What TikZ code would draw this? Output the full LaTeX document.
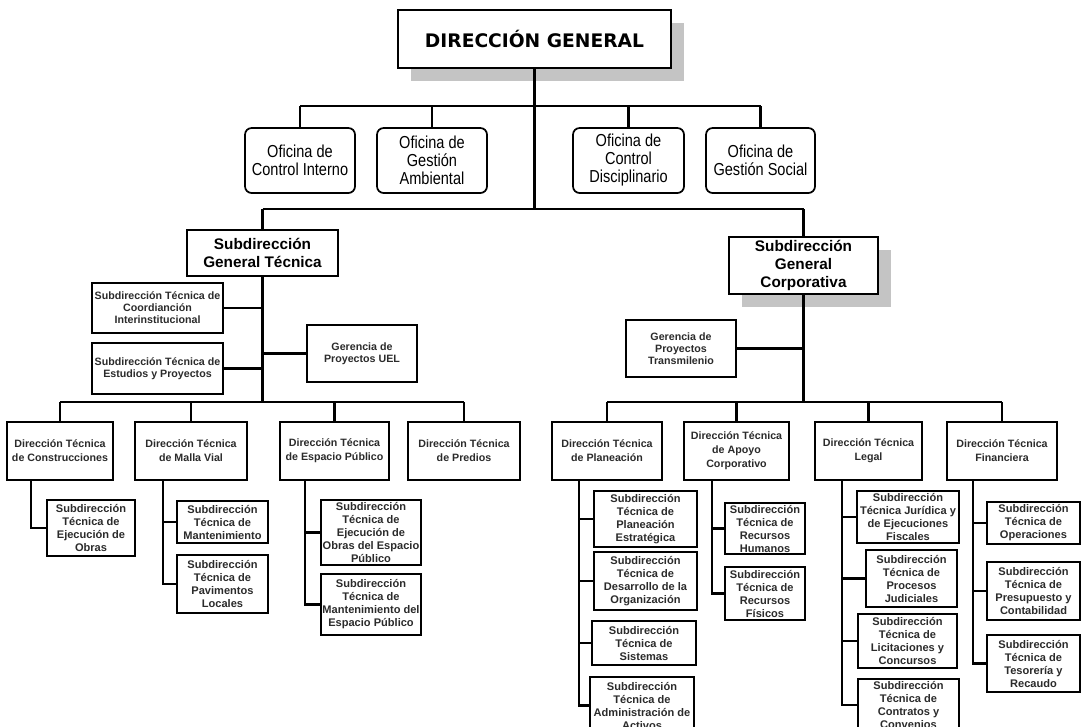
\documentclass[tikz,border=0pt]{standalone}
\usepackage{fontspec}
\setmainfont{Liberation Sans}
\newfontfamily\dgfont{DejaVu Sans}
\newfontfamily\narrowfont{Liberation Sans}[FakeStretch=0.84]
\usetikzlibrary{shadows,calc}
\definecolor{shadowgray}{HTML}{C4C4C4}
\definecolor{ink}{HTML}{2B2B2B}

% \orgbox{name}{style}{x1}{y1}{x2}{y2}{text}: a box given by its corners
\newcommand{\orgbox}[7]{%
  \node[#2, minimum width={(#5-(#3))*0.75pt}, minimum height={(#6-(#4))*0.75pt}]
    (#1) at ({(#3+#5)/2},{(#4+#6)/2}) {#7};}

\tikzset{
  box/.style={draw, line width=1.7pt, inner sep=0pt, align=center, text=ink, fill=white},
  shadowed/.style={general shadow={shadow xshift=9.75pt, shadow yshift=-9.75pt, fill=shadowgray, draw=none}},
  dgbox/.style={box, shadowed, text=black, font=\dgfont\bfseries\fontsize{14}{16}\selectfont},
  office/.style={box, line width=1.3pt, rounded corners=5pt, text=black, font=\narrowfont\fontsize{13}{13.5}\selectfont},
  subgen/.style={box, text=black, font=\bfseries\fontsize{11.5}{13.5}\selectfont},
  small/.style={box, font=\bfseries\fontsize{8}{9}\selectfont},
  dirbox/.style={box, font=\bfseries\fontsize{8}{10.5}\selectfont},
  subbox/.style={box, font=\bfseries\fontsize{8.3}{9.75}\selectfont},
  link/.style={line width=1.7pt},
  thicklink/.style={line width=2.8pt}
}

\begin{document}
\begin{tikzpicture}[x=0.75pt, y=-0.75pt]
\path[use as bounding box] (0,0) rectangle (1081,726);
\fill[white] (0,0) rectangle (1081,726);
\clip (0,0) rectangle (1081,726);

% levels of the horizontal bars
\coordinate (barA) at (0,106);
\coordinate (barB) at (0,209);
\coordinate (barC) at (0,402);

% top level and offices
\orgbox{dg}{dgbox}{398}{10}{671}{68}{DIRECCIÓN GENERAL}
\orgbox{oci}{office}{245}{128}{355}{193}{Oficina de\\Control Interno}
\orgbox{oga}{office}{377}{128}{487}{193}{Oficina de\\Gestión\\Ambiental}
\orgbox{ocd}{office}{573}{128}{684}{193}{Oficina de\\Control\\Disciplinario}
\orgbox{ogs}{office}{706}{128}{815}{193}{Oficina de\\Gestión Social}

% general sub-directions
\orgbox{sgt}{subgen}{187}{230}{338}{276}{Subdirección\\General Técnica}
\orgbox{sgc}{subgen,shadowed}{729}{237}{878}{294}{Subdirección\\General\\Corporativa}

\orgbox{stci}{small}{92}{283}{223}{333}{Subdirección Técnica de\\Coordianción\\Interinstitucional}
\orgbox{stestp}{small}{92}{343}{223}{394}{Subdirección Técnica de\\Estudios y Proyectos}
\orgbox{gpuel}{small}{307}{325}{417}{382}{Gerencia de\\Proyectos UEL}
\orgbox{gpt}{small}{626}{320}{736}{377}{Gerencia de\\Proyectos\\Transmilenio}

% technical directions
\orgbox{dtc}{dirbox}{7}{422}{113}{480}{Dirección Técnica\\de Construcciones}
\orgbox{dtmv}{dirbox}{135}{422}{247}{480}{Dirección Técnica\\de Malla Vial}
\orgbox{dtep}{dirbox}{280}{422}{389}{480}{Dirección Técnica\\de Espacio Público}
\orgbox{dtp}{dirbox}{408}{422}{520}{480}{Dirección Técnica\\de Predios}
\orgbox{dtpl}{dirbox}{552}{422}{662}{480}{Dirección Técnica\\de Planeación}
\orgbox{dtac}{dirbox}{684}{422}{789}{480}{Dirección Técnica\\de Apoyo\\Corporativo}
\orgbox{dtl}{dirbox}{815}{422}{922}{480}{Dirección Técnica\\Legal}
\orgbox{dtf}{dirbox}{947}{422}{1057}{480}{Dirección Técnica\\Financiera}

% technical sub-directions
\orgbox{steo}{subbox}{47}{500}{135}{556}{Subdirección\\Técnica de\\Ejecución de\\Obras}
\orgbox{stm}{subbox}{177}{501}{268}{543}{Subdirección\\Técnica de\\Mantenimiento}
\orgbox{stpl}{subbox}{177}{555}{268}{613}{Subdirección\\Técnica de\\Pavimentos\\Locales}
\orgbox{steoep}{subbox}{321}{500}{421}{565}{Subdirección\\Técnica de\\Ejecución de\\Obras del Espacio\\Público}
\orgbox{stmep}{subbox}{321}{574}{421}{635}{Subdirección\\Técnica de\\Mantenimiento del\\Espacio Público}

\orgbox{stpe}{subbox}{594}{491}{697}{547}{Subdirección\\Técnica de\\Planeación\\Estratégica}
\orgbox{stdo}{subbox}{594}{552}{697}{610}{Subdirección\\Técnica de\\Desarrollo de la\\Organización}
\orgbox{sts}{subbox}{592}{621}{696}{665}{Subdirección\\Técnica de\\Sistemas}
\orgbox{staa}{subbox}{590}{677}{694}{734}{Subdirección\\Técnica de\\Administración de\\Activos}
\orgbox{strh}{subbox}{725}{503}{805}{554}{Subdirección\\Técnica de\\Recursos\\Humanos}
\orgbox{strf}{subbox}{725}{567}{805}{620}{Subdirección\\Técnica de\\Recursos\\Físicos}

\orgbox{stjef}{subbox}{857}{491}{959}{543}{Subdirección\\Técnica Jurídica y\\de Ejecuciones\\Fiscales}
\orgbox{stpj}{subbox}{866}{550}{957}{607}{Subdirección\\Técnica de\\Procesos\\Judiciales}
\orgbox{stlc}{subbox}{858}{614}{957}{668}{Subdirección\\Técnica de\\Licitaciones y\\Concursos}
\orgbox{stcc}{subbox}{858}{679}{959}{731}{Subdirección\\Técnica de\\Contratos y\\Convenios}
\orgbox{sto}{subbox}{987}{502}{1080}{544}{Subdirección\\Técnica de\\Operaciones}
\orgbox{stpc}{subbox}{987}{562}{1080}{620}{Subdirección\\Técnica de\\Presupuesto y\\Contabilidad}
\orgbox{sttr}{subbox}{987}{635}{1080}{692}{Subdirección\\Técnica de\\Tesorería y\\Recaudo}

% upper connectors
\draw[link] (dg.south) -- (dg.south |- barB);
\draw[link] (oci.north |- barA) -- (ogs.north |- barA);
\foreach \o in {oci,oga,ocd,ogs} \draw[link] (\o.north) -- (\o.north |- barA);
\draw[link] (sgt.north |- barB) -- (sgc.north |- barB);
\draw[link] (sgt.north) -- (sgt.north |- barB);
\draw[link] (sgc.north) -- (sgc.north |- barB);

% technical branch
\draw[link] (sgt.south) -- (sgt.south |- barC);
\draw[link] (stci.east) -- (sgt.south |- stci.east);
\draw[link] (stestp.east) -- (sgt.south |- stestp.east);
\draw[link] (gpuel.west) -- (sgt.south |- gpuel.west);
\draw[link] (dtc.north |- barC) -- (dtp.north |- barC);
\foreach \d in {dtc,dtmv,dtep,dtp} \draw[link] (\d.north) -- (\d.north |- barC);

% corporate branch
\draw[link] (sgc.south) -- (sgc.south |- barC);
\draw[thicklink] (gpt.east) -- (sgc.south |- gpt.east);
\draw[link] (dtpl.north |- barC) -- (dtf.north |- barC);
\foreach \d in {dtpl,dtac,dtl,dtf} \draw[link] (\d.north) -- (\d.north |- barC);

% trunks down to the sub-directions
\coordinate (tc)  at ($(dtc.south west)+(25,0)$);
\coordinate (tmv) at ($(dtmv.south west)+(29,0)$);
\coordinate (tep) at ($(dtep.south west)+(26,0)$);
\coordinate (tpl) at ($(dtpl.south west)+(28,0)$);
\coordinate (tac) at ($(dtac.south west)+(29,0)$);
\coordinate (tl)  at ($(dtl.south west)+(28,0)$);
\coordinate (tf)  at ($(dtf.south west)+(27,0)$);

\draw[link] (tc) |- (steo.west);
\draw[link] (tmv) |- (stpl.west);
\draw[link] (stm.west) -- (stm.west -| tmv);
\draw[link] (tep) |- (stmep.west);
\draw[link] (steoep.west) -- (steoep.west -| tep);
\draw[link] (tpl) |- (staa.west);
\foreach \s in {stpe,stdo,sts} \draw[link] (\s.west) -- (\s.west -| tpl);
\draw[link] (tac) |- (strf.west);
\draw[link] (strh.west) -- (strh.west -| tac);
\draw[link] (tl) |- (stcc.west);
\foreach \s in {stjef,stpj,stlc} \draw[link] (\s.west) -- (\s.west -| tl);
\draw[link] (tf) |- (sttr.west);
\foreach \s in {sto,stpc} \draw[link] (\s.west) -- (\s.west -| tf);
\end{tikzpicture}
\end{document}
